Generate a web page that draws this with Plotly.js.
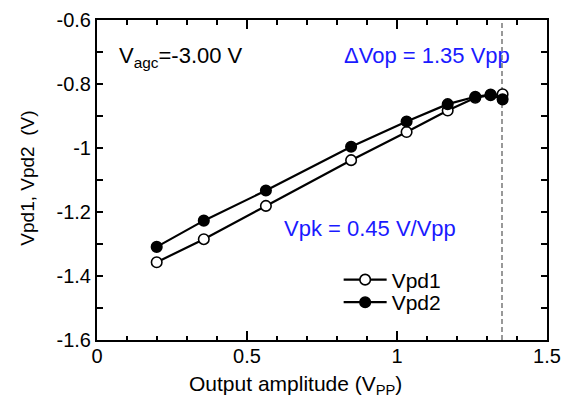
<!DOCTYPE html>
<html>
<head>
<meta charset="utf-8">
<script src="https://cdn.plot.ly/plotly-3.0.1.min.js"></script>
<style>html,body{margin:0;padding:0;background:#fff;}#chart{width:567px;height:401px;}</style>
</head>
<body>
<div id="chart"></div>
<script>
// Data
const amplitude = [0.199, 0.356, 0.563, 0.847, 1.032, 1.169, 1.261, 1.312, 1.352];
const vpd1 = [-1.357, -1.285, -1.181, -1.038, -0.950, -0.883, -0.843, -0.835, -0.832];
const vpd2 = [-1.309, -1.227, -1.133, -0.996, -0.917, -0.863, -0.840, -0.833, -0.848];
const limitX = [1.35, 1.35];
const limitY = [-1.6, -0.6];
const seriesNames = ['Vpd1', 'Vpd2'];
const xTickVals = [0, 0.5, 1, 1.5];
const xTickText = ['0', '0.5', '1', '1.5'];
const yTickVals = [-1.6, -1.4, -1.2, -1.0, -0.8, -0.6];
const yTickText = ['-1.6', '-1.4', '-1.2', '-1', '-0.8', '-0.6'];

const font = 'Arial, "Liberation Sans", Helvetica, sans-serif';
const blue = '#1a1aff';

const traces = [
  {
    x: limitX, y: limitY, mode: 'lines', showlegend: false, hoverinfo: 'skip',
    line: {color: '#555', width: 1.2, dash: '5px,3px'}
  },
  {
    x: amplitude, y: vpd1, name: seriesNames[0], mode: 'lines+markers', legend: 'legend',
    line: {color: '#000', width: 2.2},
    marker: {symbol: 'circle', size: 10.5, color: '#fff', line: {color: '#000', width: 1.6}}
  },
  {
    x: amplitude, y: vpd2, name: seriesNames[1], mode: 'lines+markers', legend: 'legend2',
    line: {color: '#000', width: 2.2},
    marker: {symbol: 'circle', size: 10.5, color: '#000', line: {color: '#000', width: 1.6}}
  }
];

const legendBase = {
  xanchor: 'left', yanchor: 'middle',
  bgcolor: 'rgba(0,0,0,0)', borderwidth: 0,
  font: {family: font, size: 21, color: '#000'},
  itemwidth: 43
};

const layout = {
  width: 567, height: 401,
  margin: {l: 97, r: 20, t: 20, b: 61, pad: 0},
  paper_bgcolor: '#fff', plot_bgcolor: '#fff',
  font: {family: font, size: 20, color: '#000'},
  showlegend: true,
  legend: Object.assign({}, legendBase, {x: 0.537, y: 0.1875}),
  legend2: Object.assign({}, legendBase, {x: 0.537, y: 0.117}),
  xaxis: {
    range: [0, 1.5], tickmode: 'array', tickvals: xTickVals, ticktext: xTickText,
    showgrid: false, zeroline: false,
    showline: true, linecolor: '#000', linewidth: 2, mirror: 'ticks',
    ticks: 'inside', ticklen: 9, tickwidth: 1.5, tickcolor: '#000',
    minor: {dtick: 0.1, tick0: 0, ticks: 'inside', ticklen: 4.5, tickwidth: 1.5, tickcolor: '#000', showgrid: false},
    tickfont: {family: font, size: 20, color: '#000'},
    ticklabelstandoff: -3,
    fixedrange: true
  },
  yaxis: {
    range: [-1.6, -0.6], tickmode: 'array', tickvals: yTickVals, ticktext: yTickText,
    showgrid: false, zeroline: false,
    showline: true, linecolor: '#000', linewidth: 2, mirror: 'ticks',
    ticks: 'inside', ticklen: 6, tickwidth: 1.5, tickcolor: '#000',
    minor: {dtick: 0.1, tick0: -1.6, ticks: 'inside', ticklen: 6, tickwidth: 1.5, tickcolor: '#000', showgrid: false},
    tickfont: {family: font, size: 20, color: '#000'},
    ticklabelstandoff: 0,
    fixedrange: true
  },
  annotations: [
    {xref: 'paper', yref: 'paper', x: 0.44, y: -0.14, xanchor: 'center', yanchor: 'middle',
     text: 'Output amplitude (V<sub>PP</sub>)', showarrow: false, font: {family: font, size: 21, color: '#000'}},
    {xref: 'paper', yref: 'paper', x: -0.155, y: 0.505, xanchor: 'center', yanchor: 'middle', textangle: -90,
     text: 'Vpd1, Vpd2  (V)', showarrow: false, font: {family: font, size: 19, color: '#000'}},
    {xref: 'paper', yref: 'paper', x: 0.044, y: 0.884, xanchor: 'left', yanchor: 'middle',
     text: 'V<sub>agc</sub>=-3.00 V', showarrow: false, font: {family: font, size: 22, color: '#000'}},
    {xref: 'paper', yref: 'paper', x: 0.544, y: 0.89, xanchor: 'left', yanchor: 'middle',
     text: '\u0394Vop = 1.35 Vpp', showarrow: false, font: {family: font, size: 22, color: blue}},
    {xref: 'paper', yref: 'paper', x: 0.411, y: 0.35, xanchor: 'left', yanchor: 'middle',
     text: 'Vpk = 0.45 V/Vpp', showarrow: false, font: {family: font, size: 22, color: blue}}
  ]
};

Plotly.newPlot('chart', traces, layout, {displayModeBar: false, staticPlot: true});
</script>
</body>
</html>
